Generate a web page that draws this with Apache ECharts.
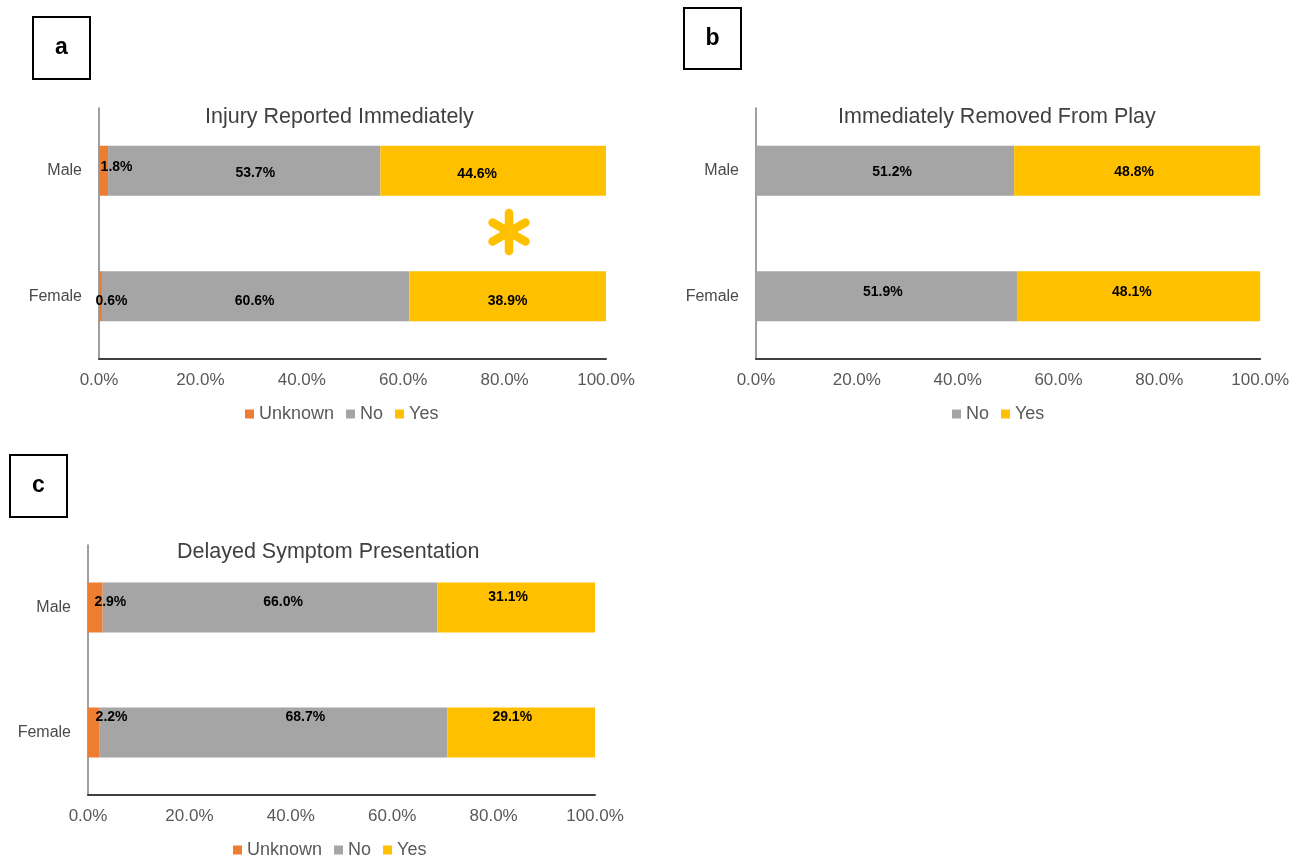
<!DOCTYPE html>
<html><head><meta charset="utf-8">
<script src="https://cdn.jsdelivr.net/npm/echarts@6/dist/echarts.min.js"></script>
<style>html,body{margin:0;padding:0;background:#fff}#c{width:1292px;height:859px}</style>
</head><body><div id="c"></div>
<script>
// ---- data ----
const categories = ['Male', 'Female'];
const xTicks = [0, 20, 40, 60, 80, 100];
const xTickLabels = ['0.0%', '20.0%', '40.0%', '60.0%', '80.0%', '100.0%'];
const titleA = 'Injury Reported Immediately';
const titleB = 'Immediately Removed From Play';
const titleC = 'Delayed Symptom Presentation';
const aUnknown = [1.8, 0.6];
const aNo = [53.7, 60.6];
const aYes = [44.6, 38.9];
const bNo = [51.2, 51.9];
const bYes = [48.8, 48.1];
const cUnknown = [2.9, 2.2];
const cNo = [66.0, 68.7];
const cYes = [31.1, 29.1];

// ---- style (label nudges, px) ----
const nudge = {
  aUnknown: [[13, -4], [11, 5]], aNo: [[11, 2], [-1, 5]], aYes: [[-16, 3], [0, 5]],
  bNo: [[7, 1], [-4, -4]], bYes: [[-3, 1], [-7, -4]],
  cUnknown: [[15, -5], [18, -15]], cNo: [[13, -5], [32, -15]], cYes: [[-8, -10], [-9, -15]]
};
const COLORS = { Unknown: '#ED7D31', No: '#A5A5A5', Yes: '#FFC000' };
const FONT = '"Liberation Sans", Arial, sans-serif';
const TXT = '#595959';

function barSeries(name, values, gridIdx, stack, nudges) {
  return {
    type: 'bar', name, stack, xAxisIndex: gridIdx, yAxisIndex: gridIdx,
    barWidth: 50, itemStyle: { color: COLORS[name] },
    data: values.map((v, i) => ({
      value: v,
      label: { offset: nudges[i] }
    })),
    label: {
      show: true, position: 'inside',
      formatter: p => p.value.toFixed(1) + '%',
      fontFamily: FONT, fontWeight: 'bold', fontSize: 14, color: '#000'
    },
    emphasis: { disabled: true }
  };
}

const grids = [
  { left: 99, top: 108, width: 507, height: 251 },
  { left: 756, top: 108, width: 507, height: 251 },
  { left: 88, top: 545, width: 507, height: 250 }
];

const xAxes = grids.map((g, i) => ({
  type: 'value', gridIndex: i, min: 0, max: 100, interval: 20,
  axisLine: { show: true, lineStyle: { color: '#404040', width: 2 } },
  axisTick: { show: false }, splitLine: { show: false },
  axisLabel: {
    margin: 13, fontFamily: FONT, fontSize: 17, color: TXT,
    formatter: v => xTickLabels[xTicks.indexOf(v)]
  }
}));
const yAxes = grids.map((g, i) => ({
  type: 'category', gridIndex: i, data: categories, inverse: true,
  axisLine: { show: true, lineStyle: { color: '#7f7f7f', width: 1.5 } },
  axisTick: { show: false },
  axisLabel: { margin: 17, fontFamily: FONT, fontSize: 16, color: '#4a4a4a' }
}));

function titleObj(text, x, top) {
  return { text, left: x, top, padding: 0,
    textStyle: { fontFamily: FONT, fontSize: 21.5, fontWeight: 'normal', color: '#404040' } };
}

function legendObj(names, left, top) {
  return { data: names, left, top, orient: 'horizontal', itemWidth: 9, itemHeight: 9,
    itemGap: 12, padding: 0, icon: 'rect', selectedMode: false,
    textStyle: { fontFamily: FONT, fontSize: 18, color: TXT } };
}

function box(x, y, w, h, letter) {
  return [
    { type: 'rect', shape: { x, y, width: w, height: h },
      style: { fill: 'none', stroke: '#000', lineWidth: 2 } },
    { type: 'text', x: x + w / 2, y: y + h / 2,
      style: { text: letter, fill: '#000', font: 'bold 23px ' + FONT,
        textAlign: 'center', textVerticalAlign: 'middle' } }
  ];
}

function asterisk(cx, cy, r, color) {
  return [90, 30, -30].map(deg => {
    const a = deg * Math.PI / 180;
    return { type: 'line',
      shape: { x1: cx - r * Math.cos(a), y1: cy - r * Math.sin(a), x2: cx + r * Math.cos(a), y2: cy + r * Math.sin(a) },
      style: { stroke: color, lineWidth: 8.5, lineCap: 'round' } };
  });
}

const chart = echarts.init(document.getElementById('c'), null, { renderer: 'canvas' });
chart.setOption({
  animation: false,
  backgroundColor: '#fff',
  title: [
    titleObj(titleA, 205, 106),
    titleObj(titleB, 838, 106),
    titleObj(titleC, 177, 541)
  ],
  legend: [
    legendObj(['Unknown', 'No', 'Yes'], 245, 405),
    legendObj(['No', 'Yes'], 952, 405),
    legendObj(['Unknown', 'No', 'Yes'], 233, 841)
  ],
  grid: grids,
  xAxis: xAxes,
  yAxis: yAxes,
  series: [
    barSeries('Unknown', aUnknown, 0, 'a', nudge.aUnknown),
    barSeries('No', aNo, 0, 'a', nudge.aNo),
    barSeries('Yes', aYes, 0, 'a', nudge.aYes),
    barSeries('No', bNo, 1, 'b', nudge.bNo),
    barSeries('Yes', bYes, 1, 'b', nudge.bYes),
    barSeries('Unknown', cUnknown, 2, 'c', nudge.cUnknown),
    barSeries('No', cNo, 2, 'c', nudge.cNo),
    barSeries('Yes', cYes, 2, 'c', nudge.cYes)
  ],
  graphic: [
    ...box(33, 17, 57, 62, 'a'),
    ...box(684, 8, 57, 61, 'b'),
    ...box(10, 455, 57, 62, 'c'),
    ...asterisk(509, 232, 19, '#FFC000')
  ]
});
</script>
</body></html>
